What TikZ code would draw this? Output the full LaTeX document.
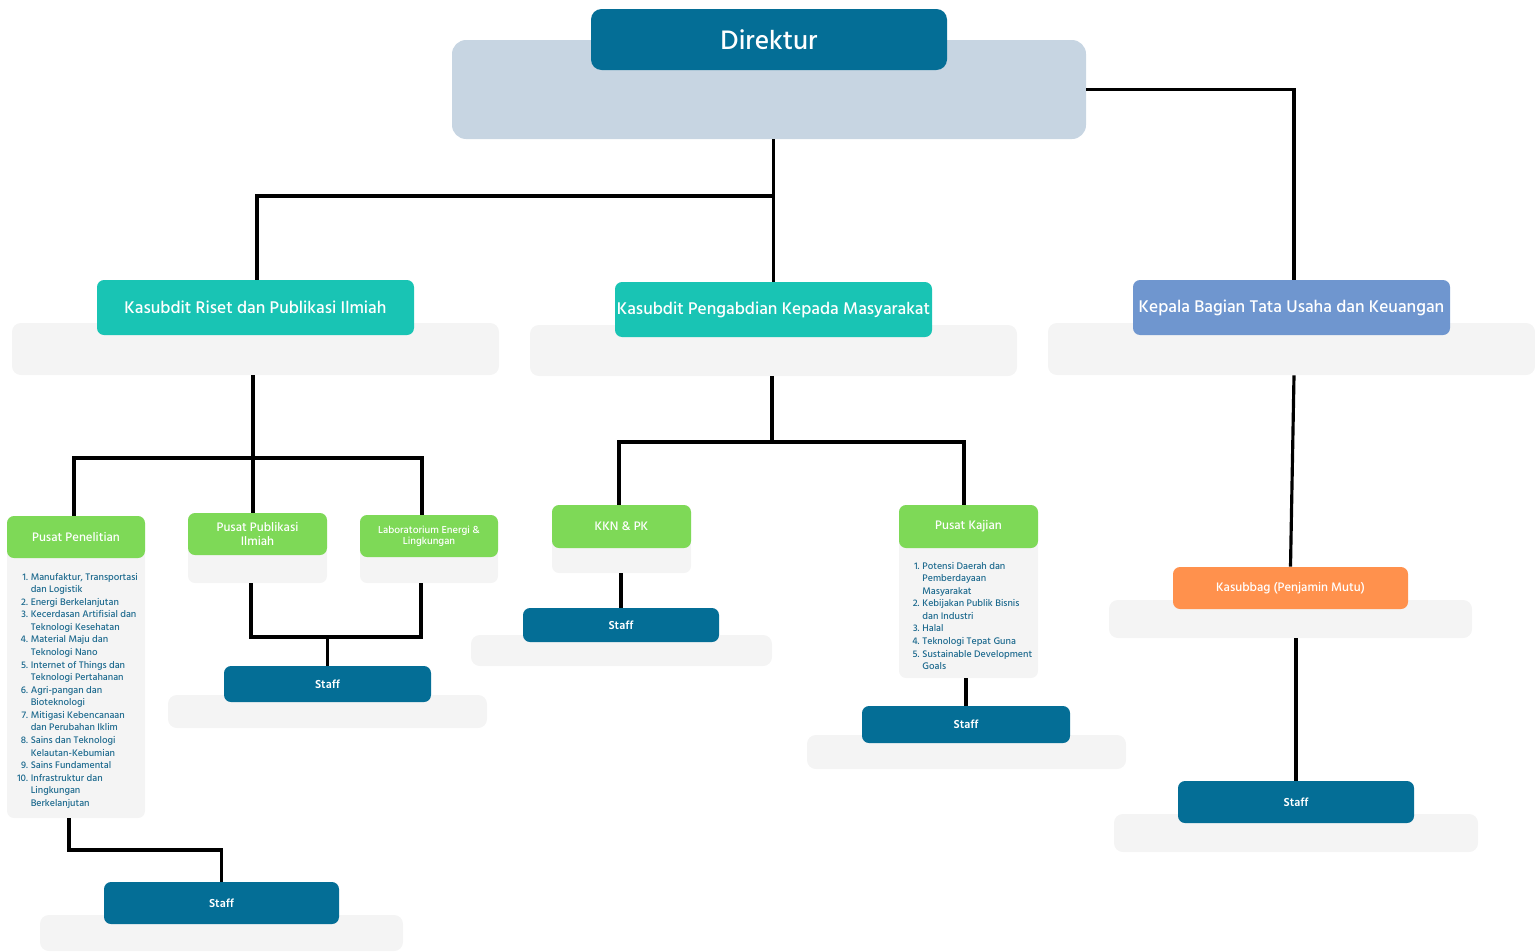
\documentclass[tikz,border=0pt]{standalone}
\usepackage{fontspec}
\setmainfont{Hind Madurai}[UprightFont={* Medium}, BoldFont={* SemiBold}]
\definecolor{dBlue}{HTML}{046E96}
\definecolor{dirBg}{HTML}{C7D5E2}
\definecolor{mTeal}{HTML}{19C4B4}
\definecolor{mBlue}{HTML}{6F96CF}
\definecolor{mGreen}{HTML}{7ED957}
\definecolor{mOrange}{HTML}{FF914D}
\definecolor{bgGrey}{HTML}{F4F4F4}
\definecolor{listBlue}{HTML}{1D6A8E}

\tikzset{
  wh/.style 2 args={minimum width=#1*0.02cm, minimum height=#2*0.02cm},
  bg/.style={fill=bgGrey, rounded corners=5pt, inner sep=0pt},
  head/.style={rounded corners=4pt, inner sep=0pt, text=white, align=center},
  lvltwo/.style={head, font=\fontsize{9.9}{11}\selectfont},
  lvlthree/.style={head, fill=mGreen, font=\fontsize{7.2}{7.6}\selectfont},
  staffbox/.style={head, fill=dBlue, font=\fontsize{6.8}{7}\selectfont\bfseries},
  conn/.style={line width=1.8pt},
  list/.style={anchor=north west, inner sep=0pt, text=listBlue, font=\fontsize{5.6}{7.15}\selectfont},
}

\begin{document}
\begin{tikzpicture}[x=0.02cm, y=-0.02cm]
  \useasboundingbox (0,0) rectangle (1535,951);

  % direktur
  \node[bg, fill=dirBg, rounded corners=8pt, wh={634}{99}] (dirbg) at (769,89.5) {};
  \node[head, fill=dBlue, rounded corners=6pt, wh={356}{61}, font=\fontsize{15.6}{18}\selectfont] (dir) at (769,39.5) {Direktur};

  % kasubdit / kabag
  \node[bg, wh={487}{52}] (risetbg) at (255.5,349) {};
  \node[lvltwo, fill=mTeal, wh={317}{55}] (riset) at (255.5,307.5) {Kasubdit Riset dan Publikasi Ilmiah};
  \node[bg, wh={487}{51}] (pengabdianbg) at (773.5,350.5) {};
  \node[lvltwo, fill=mTeal, wh={317}{55}] (pengabdian) at (773.5,309.5) {Kasubdit Pengabdian Kepada Masyarakat};
  \node[bg, wh={487}{52}] (kabagbg) at (1291.5,349) {};
  \node[lvltwo, fill=mBlue, wh={317}{55}] (kabag) at (1291.5,307.5) {Kepala Bagian Tata Usaha dan Keuangan};

  % riset
  \node[bg, rounded corners=4pt, wh={138}{302}] (penelitianbg) at (76,667) {};
  \node[lvlthree, wh={138}{42}] (penelitian) at (76,537) {Pusat Penelitian};
  \node[list] (penlist) at (17,571) {\begin{tabular}{@{}r@{\hspace{1.6pt}}l@{}}
    1. & Manufaktur, Transportasi\\ & dan Logistik\\
    2. & Energi Berkelanjutan\\
    3. & Kecerdasan Artifisial dan\\ & Teknologi Kesehatan\\
    4. & Material Maju dan\\ & Teknologi Nano\\
    5. & Internet of Things dan\\ & Teknologi Pertahanan\\
    6. & Agri-pangan dan\\ & Bioteknologi\\
    7. & Mitigasi Kebencanaan\\ & dan Perubahan Iklim\\
    8. & Sains dan Teknologi\\ & Kelautan-Kebumian\\
    9. & Sains Fundamental\\
    10. & Infrastruktur dan\\ & Lingkungan\\ & Berkelanjutan
  \end{tabular}};
  \node[bg, rounded corners=4pt, wh={139}{70}] (publikasibg) at (257.5,548) {};
  \node[lvlthree, wh={139}{42}] (publikasi) at (257.5,534) {Pusat Publikasi\\Ilmiah};
  \node[bg, rounded corners=4pt, wh={138}{68}] (labbg) at (429,549) {};
  \node[lvlthree, wh={138}{42}, font=\fontsize{5.9}{6.3}\selectfont] (lab) at (429,536) {Laboratorium Energi \&\\Lingkungan};
  \node[bg, wh={319}{33}] (staffabg) at (327.5,711.5) {};
  \node[staffbox, wh={207}{36}] (staffa) at (327.5,684) {Staff};
  \node[bg, wh={363}{36}] (staffbbg) at (221.5,933) {};
  \node[staffbox, wh={235}{42}] (staffb) at (221.5,903) {Staff};

  % pengabdian
  \node[bg, rounded corners=4pt, wh={139}{68}] (kknbg) at (621.5,539) {};
  \node[lvlthree, wh={139}{43}] (kkn) at (621.5,526.5) {KKN \& PK};
  \node[bg, wh={301}{31}] (staffcbg) at (621.5,650.5) {};
  \node[staffbox, wh={196}{34}] (staffc) at (621,625) {Staff};
  \node[bg, rounded corners=4pt, wh={139}{173}] (kajianbg) at (968.5,591.5) {};
  \node[lvlthree, wh={139}{43}] (kajian) at (968.5,526.5) {Pusat Kajian};
  \node[list] (kajlist) at (912,560) {\begin{tabular}{@{}r@{\hspace{1.6pt}}l@{}}
    1. & Potensi Daerah dan\\ & Pemberdayaan\\ & Masyarakat\\
    2. & Kebijakan Publik Bisnis\\ & dan Industri\\
    3. & Halal\\
    4. & Teknologi Tepat Guna\\
    5. & Sustainable Development\\ & Goals
  \end{tabular}};
  \node[bg, wh={319}{34}] (staffdbg) at (966.5,752) {};
  \node[staffbox, wh={208}{37}] (staffd) at (966,724.5) {Staff};

  % tata usaha
  \node[bg, wh={363}{38}] (kasubbagbg) at (1290.5,619) {};
  \node[lvlthree, fill=mOrange, wh={235}{42}] (kasubbag) at (1290.5,588) {Kasubbag (Penjamin Mutu)};
  \node[bg, wh={364}{38}] (staffebg) at (1296,833) {};
  \node[staffbox, wh={236}{42}] (staffe) at (1296,802) {Staff};

  % connectors
  \coordinate (jdir) at (774,196);
  \coordinate (jriset) at (253,458);
  \coordinate (jpub) at (329,637);
  \coordinate (jpen) at (150,850);
  \coordinate (jpeng) at (772,442);
  \draw[conn] (pengabdian.north |- dirbg.south) -- (pengabdian.north);
  \draw[conn] ([xshift=0.03cm]riset.north) |- (jdir);
  \draw[conn] (dirbg.east) -| ([xshift=0.05cm]kabag.north);
  \draw[conn] ([xshift=-0.05cm]risetbg.south) -- ([xshift=-0.05cm]risetbg.south |- publikasi.north);
  \draw[conn] ([xshift=-0.04cm]penelitian.north) |- (jriset) -| ([xshift=-0.14cm]lab.north);
  \draw[conn] ([xshift=-0.13cm]publikasibg.south) |- (jpub) -| ([xshift=-0.16cm]labbg.south);
  \draw[conn] (staffa.north |- jpub) -- (staffa.north);
  \draw[conn] ([xshift=-0.14cm]penelitianbg.south) |- (jpen) -| (staffb.north);
  \draw[conn] (pengabdianbg.south -| jpeng) -- (jpeng);
  \draw[conn] ([xshift=-0.05cm]kkn.north) |- (jpeng) -| ([xshift=-0.09cm]kajian.north);
  \draw[conn] (staffc.north |- kknbg.south) -- (staffc.north);
  \draw[conn] (staffd.north |- kajianbg.south) -- (staffd.north);
  \draw[conn] ([xshift=0.05cm]kabagbg.south) -- (kasubbag.north);
  \draw[conn] (staffe.north |- kasubbagbg.south) -- (staffe.north);
\end{tikzpicture}
\end{document}
